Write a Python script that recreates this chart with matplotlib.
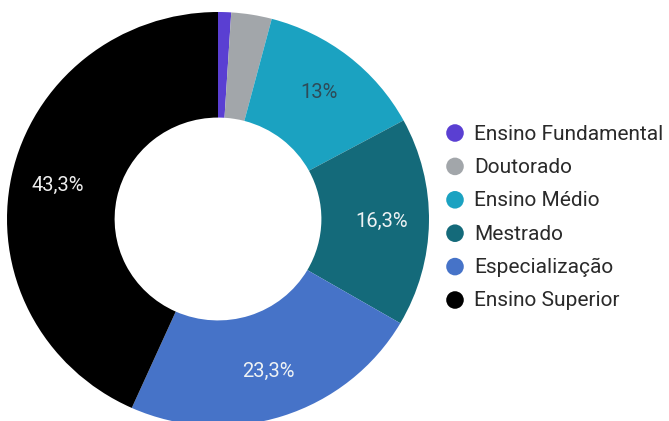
import matplotlib
matplotlib.use("Agg")
import matplotlib.pyplot as plt
import numpy as np

plt.rcParams["font.family"] = ["Roboto", "DejaVu Sans"]

categories = ["Ensino Fundamental", "Doutorado", "Ensino Médio",
              "Mestrado", "Especialização", "Ensino Superior"]
shares = [1.0, 3.1, 13.0, 16.3, 23.3, 43.3]
pct_labels = ["", "", "13%", "16,3%", "23,3%", "43,3%"]
colors = ["#5a3fd2", "#a2a6aa", "#1ba2c1", "#146a7a", "#4673c8", "#000000"]
label_colors = ["white", "white", "#2e4b58", "#eef2f4", "#eef2f4", "#eeeeee"]

W, H = 669, 421
fig = plt.figure(figsize=(W / 100, H / 100), dpi=100)

# donut axes (slightly wider than tall)
cx, cy = 218, 219
rx, ry = 211, 207
ax = fig.add_axes([(cx - rx) / W, (H - cy - ry) / H, 2 * rx / W, 2 * ry / H])
wedges, _ = ax.pie(shares, colors=colors, startangle=90, counterclock=False,
                   radius=1.0, wedgeprops=dict(width=0.51, linewidth=0))
ax.set_xlim(-1, 1)
ax.set_ylim(-1, 1)
ax.set_aspect("auto")
ax.axis("off")

cum = np.cumsum([0] + shares)
total = cum[-1]
for i, lab in enumerate(pct_labels):
    if not lab:
        continue
    mid = (cum[i] + cum[i + 1]) / 2 / total
    ang = np.deg2rad(90 - 360 * mid)
    r = 0.775
    ax.text(r * np.cos(ang), r * np.sin(ang), lab, ha="center", va="center",
            fontsize=14.5, color=label_colors[i])

# legend drawn in pixel coordinates
lax = fig.add_axes([0, 0, 1, 1])
lax.set_xlim(0, W)
lax.set_ylim(H, 0)
lax.axis("off")
y0, dy = 133, 33.4
for i, (cat, col) in enumerate(zip(categories, colors)):
    y = y0 + i * dy
    lax.scatter([455], [y], s=160, color=col, edgecolors="none")
    lax.text(474, y + 1, cat, va="center", ha="left", fontsize=15, color="#2a2a2a")

fig.savefig("out.png", dpi=100)
